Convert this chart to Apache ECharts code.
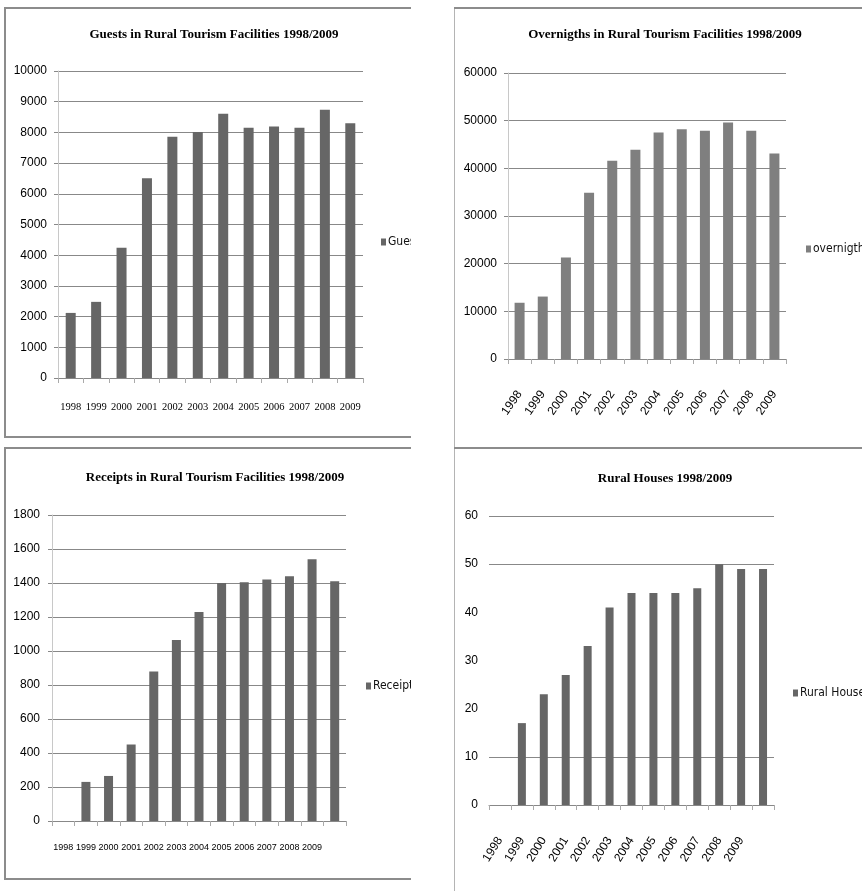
<!DOCTYPE html>
<html>
<head>
<meta charset="utf-8">
<script src="https://cdn.jsdelivr.net/npm/echarts@6/dist/echarts.min.js"></script>
<style>
  html, body { margin: 0; padding: 0; background: #fff; width: 862px; height: 891px; overflow: hidden; }
  .panel { position: absolute; }
  .rule { position: absolute; background: #8c8c8c; z-index: 5; }
  .rule.light { background: #b4b4b4; }
</style>
</head>
<body>
<div id="guests" class="panel" style="left:4px;top:7px;width:407px;height:430px"></div>
<div id="overnights" class="panel" style="left:454px;top:7px;width:408px;height:441px"></div>
<div id="receipts" class="panel" style="left:4px;top:447px;width:407px;height:432px"></div>
<div id="houses" class="panel" style="left:454px;top:449px;width:408px;height:442px"></div>

<!-- frame lines around the four panels -->
<div class="rule" style="left:4px;top:7px;width:2px;height:431px"></div>
<div class="rule" style="left:4px;top:7px;width:407px;height:2px"></div>
<div class="rule" style="left:4px;top:436px;width:407px;height:2px"></div>
<div class="rule" style="left:4px;top:447px;width:2px;height:433px"></div>
<div class="rule" style="left:4px;top:447px;width:407px;height:2px"></div>
<div class="rule" style="left:4px;top:878px;width:407px;height:2px"></div>
<div class="rule light" style="left:454px;top:7px;width:1px;height:442px"></div>
<div class="rule" style="left:454px;top:7px;width:408px;height:2px"></div>
<div class="rule" style="left:454px;top:447px;width:408px;height:2px"></div>
<div class="rule light" style="left:454px;top:449px;width:1px;height:442px"></div>

<script>
// Year categories
const years = ['1998', '1999', '2000', '2001', '2002', '2003', '2004', '2005', '2006', '2007', '2008', '2009'];
// The receipts and houses sheets carry one extra, unlabelled slot at the end
const yearsWithBlank = ['1998', '1999', '2000', '2001', '2002', '2003', '2004', '2005', '2006', '2007', '2008', '2009', ''];

// Guests in rural tourism facilities
const guests = [2120, 2480, 4240, 6510, 7860, 8010, 8610, 8150, 8190, 8150, 8740, 8300];
// Overnight stays
const overnights = [11800, 13100, 21300, 34900, 41600, 43900, 47500, 48200, 47900, 49600, 47900, 43100];
// Receipts (first slot empty)
const receipts = [null, 230, 265, 450, 880, 1065, 1230, 1400, 1405, 1420, 1440, 1540, 1410];
// Number of rural houses (first slot empty)
const houses = [null, 17, 23, 27, 33, 41, 44, 44, 44, 45, 50, 49, 49];

const SERIF = "'Liberation Serif', 'DejaVu Serif', serif";
const NARROW = "'Liberation Sans Narrow', 'DejaVu Sans Condensed', 'Liberation Sans', sans-serif";
const SANS = "'Liberation Sans', 'DejaVu Sans', sans-serif";

function barPanel(id, p) {
  const chart = echarts.init(document.getElementById(id), null, { renderer: 'canvas' });
  chart.setOption({
    animation: false,
    backgroundColor: '#fff',
    title: {
      text: p.title, left: p.titleX, top: p.titleTop, textAlign: 'center', padding: 0,
      textStyle: { fontFamily: SERIF, fontSize: 13, fontWeight: 'bold', color: '#000' }
    },
    legend: {
      left: p.legendX, top: p.legendTop, padding: 0, icon: 'rect', itemWidth: 5, itemHeight: 7,
      data: [p.name], selectedMode: false,
      textStyle: { fontFamily: NARROW, fontSize: 12, color: '#111', padding: [0, 0, 0, -3] }
    },
    grid: { left: p.grid[0], top: p.grid[1], width: p.grid[2], height: p.grid[3], outerBoundsMode: 'none' },
    xAxis: {
      type: 'category', data: p.categories,
      axisLine: { lineStyle: { color: '#888', width: 1 } },
      axisTick: { show: true, length: 5, lineStyle: { color: '#aaa' } },
      axisLabel: {
        interval: 0, margin: p.xMargin, rotate: p.rotate || 0, color: '#000',
        fontFamily: p.xFamily || SANS, fontSize: p.xFont
      }
    },
    yAxis: {
      type: 'value', min: 0, max: p.max, interval: p.step,
      axisLine: { show: p.yLine !== false, lineStyle: { color: '#c8c8c8' } },
      axisTick: { show: p.yLine !== false, length: 4, lineStyle: { color: '#888' } },
      splitLine: { lineStyle: { color: p.splitColors || '#888', width: 1 } },
      axisLabel: {
        margin: p.yMargin, color: '#000', fontFamily: SANS, fontSize: 12,
        formatter: v => String(v)
      }
    },
    series: [{
      type: 'bar', name: p.name, data: p.values, barWidth: p.barWidth,
      itemStyle: { color: p.color }
    }]
  });
}

barPanel('guests', {
  title: 'Guests in Rural Tourism Facilities 1998/2009', titleX: 210, titleTop: 21,
  name: 'Guests', legendX: 377, legendTop: 229,
  grid: [54, 64, 305, 307], categories: years, values: guests,
  max: 10000, step: 1000, xMargin: 24, xFont: 10.5, xFamily: SERIF, yMargin: 11,
  barWidth: 10, color: '#666666'
});

barPanel('overnights', {
  title: 'Overnigths in Rural Tourism Facilities 1998/2009', titleX: 211, titleTop: 21,
  name: 'overnigths', legendX: 352, legendTop: 236,
  grid: [54, 66, 278, 286], categories: years, values: overnights,
  max: 60000, step: 10000, xMargin: 33, xFont: 12, rotate: 55, yMargin: 11,
  barWidth: 10, color: '#7f7f7f'
});

barPanel('receipts', {
  title: 'Receipts in Rural Tourism Facilities 1998/2009', titleX: 211, titleTop: 24,
  name: 'Receipts', legendX: 362, legendTop: 233,
  grid: [48, 68, 294, 306], categories: yearsWithBlank, values: receipts,
  max: 1800, step: 200, xMargin: 22, xFont: 9, yMargin: 12,
  barWidth: 9, color: '#666666'
});

barPanel('houses', {
  title: 'Rural Houses 1998/2009', titleX: 211, titleTop: 23,
  name: 'Rural Houses', legendX: 339, legendTop: 238,
  grid: [35, 67, 285, 289], categories: yearsWithBlank, values: houses,
  max: 60, step: 10, xMargin: 33, xFont: 12, rotate: 58, yMargin: 11, yLine: false,
  splitColors: ['#888', '#888', 'rgba(0,0,0,0)', 'rgba(0,0,0,0)', 'rgba(0,0,0,0)', '#888', '#888'],
  barWidth: 8, color: '#666666'
});
</script>
</body>
</html>
